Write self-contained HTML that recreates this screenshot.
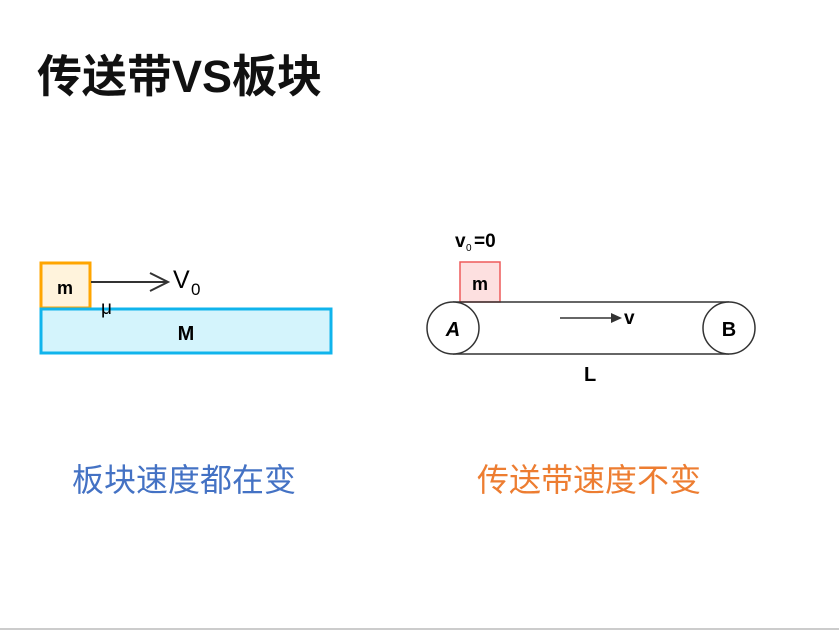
<!DOCTYPE html>
<html><head><meta charset="utf-8"><style>
body{margin:0;width:839px;height:631px;background:#fff;position:relative;overflow:hidden;font-family:"Liberation Sans","Noto Sans CJK SC",sans-serif}
.t{position:absolute;white-space:nowrap}
</style></head><body>
<div class="t" style="left:37px;top:40px;font-size:45px;font-weight:bold;color:#111">传送带VS板块</div>
<svg width="839" height="631" style="position:absolute;left:0;top:0">
<rect x="41" y="263" width="49" height="45" fill="#fff3dc" stroke="#ffa500" stroke-width="3"/>
<text x="65" y="294" font-size="18" font-weight="bold" text-anchor="middle" font-family="Liberation Sans">m</text>
<rect x="41" y="309" width="290" height="44" fill="#d4f4fc" stroke="#10b4ec" stroke-width="3"/>
<text x="186" y="340" font-size="20" font-weight="bold" text-anchor="middle" font-family="Liberation Sans">M</text>
<line x1="91" y1="282" x2="168" y2="282" stroke="#333" stroke-width="2"/>
<polyline points="150,273 168,282 150,291" fill="none" stroke="#333" stroke-width="2"/>
<text x="173" y="288" font-size="25" font-family="Liberation Sans">V</text>
<text x="191" y="295" font-size="17" font-family="Liberation Sans">0</text>
<text x="101" y="314" font-size="19" font-family="Liberation Sans">μ</text>

<text x="455" y="247" font-size="19" font-weight="bold" font-family="Liberation Sans">v</text>
<text x="466" y="251" font-size="10" font-family="Liberation Sans">0</text>
<text x="474" y="247" font-size="19" font-weight="bold" font-family="Liberation Sans">=0</text>
<rect x="460" y="262" width="40" height="40" fill="#fde0e0" stroke="#ee5a5a" stroke-width="1.5"/>
<text x="480" y="290" font-size="18" font-weight="bold" text-anchor="middle" font-family="Liberation Sans">m</text>
<line x1="453" y1="302" x2="729" y2="302" stroke="#333" stroke-width="1.5"/>
<line x1="453" y1="354" x2="729" y2="354" stroke="#333" stroke-width="1.5"/>
<circle cx="453" cy="328" r="26" fill="#fff" stroke="#333" stroke-width="1.5"/>
<circle cx="729" cy="328" r="26" fill="#fff" stroke="#333" stroke-width="1.5"/>
<text x="453" y="336" font-size="20" font-style="italic" font-weight="bold" text-anchor="middle" font-family="Liberation Sans">A</text>
<text x="729" y="336" font-size="20" font-weight="bold" text-anchor="middle" font-family="Liberation Sans">B</text>
<line x1="560" y1="318" x2="614" y2="318" stroke="#333" stroke-width="1.5"/>
<polygon points="622,318 611,313 611,323" fill="#333"/>
<text x="624" y="324" font-size="19" font-weight="bold" font-family="Liberation Sans">v</text>
<text x="584" y="381" font-size="20" font-weight="bold" font-family="Liberation Sans">L</text>
<line x1="0" y1="629" x2="839" y2="629" stroke="#ccc" stroke-width="2"/>
</svg>
<div class="t" style="left:72px;top:455px;font-size:32px;color:#4472c4">板块速度都在变</div>
<div class="t" style="left:477px;top:455px;font-size:32px;color:#ed7d31">传送带速度不变</div>
</body></html>
